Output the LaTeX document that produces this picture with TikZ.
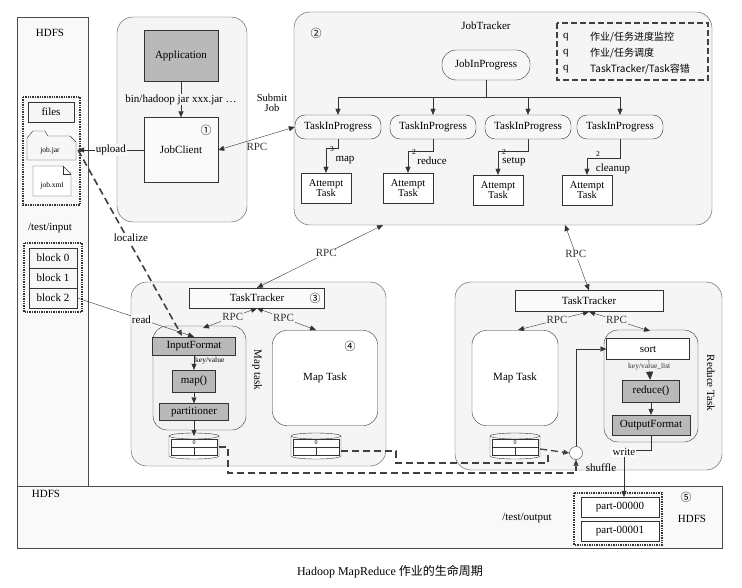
\documentclass[tikz,border=0pt]{standalone}
\usepackage{fontspec}
\setmainfont{Liberation Serif}
\newfontfamily\cjk{Noto Sans CJK SC}
\usetikzlibrary{arrows.meta,calc,shapes.geometric}
\begin{document}
\begin{tikzpicture}[x=1pt,y=-1pt,font=\fontsize{11}{12}\selectfont,
  >={Triangle[length=6pt,width=5pt]},
  cont/.style={draw=black!70,rounded corners=16pt,fill=gray!8},
  box/.style={draw=black!80,fill=gray!6,inner sep=1pt},
  dark/.style={draw=black!80,fill=gray!55,inner sep=1pt},
  pill/.style={draw=black!80,fill=gray!6,rounded corners=10pt,minimum width=86pt,minimum height=24pt,inner sep=1pt},
  att/.style={draw=black!80,fill=white,minimum width=50pt,minimum height=30pt,align=center,inner sep=1pt,font=\fontsize{10.5}{10.5}\selectfont},
  dotbox/.style={draw=black!80,densely dotted,line width=1.4pt},
  thickdash/.style={dashed,line width=1.6pt,dash pattern=on 7pt off 4pt},
  conn/.style={draw=black!80,->},
  small/.style={font=\fontsize{7.5}{8}\selectfont,inner sep=1pt}]
\useasboundingbox (0,0) rectangle (742,588);
% HDFS column and bottom bar
\draw[black!70,fill=gray!5] (17,17) rectangle (88,486);
\draw[black!70,fill=gray!5] (17,486) rectangle (722,548);
\node (hdfsA) at (50,33) {HDFS};
\node (hdfsB) at (46,494) {HDFS};
\draw[dotbox] (23,97) rectangle (80,205);
\node[box,minimum width=46pt,minimum height=20pt] (files) at (51,112) {files};
% job.jar folder
\draw[black!80,fill=gray!6] (27,160) -- (27,138) -- (33,131) -- (45,131) -- (48,136) -- (70,136) -- (76,142) -- (76,160) -- cycle;
\coordinate (jar) at (78,150);
\node[font=\fontsize{7.5}{8}\selectfont] (jarT) at (50,151) {job.jar};
% job.xml page
\draw[black!80,fill=white] (33,166) -- (63,166) -- (71,174) -- (71,196) -- (33,196) -- cycle;
\draw[black!80] (63,166) -- (63,174) -- (71,174);
\node[font=\fontsize{7.5}{8}\selectfont] (xmlT) at (52,186) {job.xml};
\node (tin) at (50,228) {/test/input};
\draw[dotbox] (24,243) rectangle (82,312);
\node[box,minimum width=48pt,minimum height=20pt] (b0) at (53,258) {block 0};
\node[box,minimum width=48pt,minimum height=20pt] (b1) at (53,278) {block 1};
\node[box,minimum width=48pt,minimum height=20pt] (b2) at (53,298) {block 2};
% JobClient container
\draw[cont] (117,17) rectangle (247,222);
\node[dark,minimum width=74pt,minimum height=51pt] (app) at (181,56) {Application};
\node[box,fill=gray!4,minimum width=74pt,minimum height=65pt] (jc) at (181,150) {JobClient};
\node[font=\cjk\fontsize{11}{11}\selectfont] (c1) at (206,130) {①};
\draw[conn] (app) -- node[fill=gray!8,inner sep=1pt] {bin/hadoop jar xxx.jar …} (jc);
% JobTracker container
\draw[cont] (294,12) rectangle (712,225);
\node[font=\cjk\fontsize{11}{11}\selectfont] (c2) at (316,33) {②};
\node (jt) at (486,26) {JobTracker};
\draw[draw=black!75,line width=1.3pt,dash pattern=on 6pt off 3pt] (557,23) rectangle (708,80);
\node[anchor=west,inner sep=0pt] (q1) at (563,37) {q};
\node[anchor=west,inner sep=0pt] (q2) at (563,53) {q};
\node[anchor=west,inner sep=0pt] (q3) at (563,69) {q};
\node[anchor=west,inner sep=0pt,font=\cjk\fontsize{10}{10}\selectfont] (t1) at (590,37) {作业/任务进度监控};
\node[anchor=west,inner sep=0pt,font=\cjk\fontsize{10}{10}\selectfont] (t2) at (590,53) {作业/任务调度};
\node[anchor=west,inner sep=0pt,font=\cjk\fontsize{10}{10}\selectfont] (t3) at (590,69) {TaskTracker/Task容错};
\node[pill,minimum width=88pt,minimum height=30pt,rounded corners=14pt] (jip) at (486,65) {JobInProgress};
\foreach \i/\x in {1/338,2/433,3/528,4/620}{
  \node[pill] (tip\i) at (\x,127) {TaskInProgress};}
\coordinate (bus) at (486,97);
\draw[black!80] (jip.south) -- (bus);
\draw[black!80] (338,97) -- (620,97);
\foreach \i in {1,2,3,4}{\draw[conn] (tip\i.north |- bus) -- (tip\i.north);}
\node[att] (at1) at (326,188) {Attempt\\Task};
\node[att] (at2) at (408,188) {Attempt\\Task};
\node[att] (at3) at (498,190) {Attempt\\Task};
\node[att] (at4) at (587,190) {Attempt\\Task};
\foreach \i/\yy in {1/148,2/151,3/151,4/158}{
  \draw[conn] (tip\i.south) -- ($(tip\i.south)+(0,\yy-139)$) -| (at\i.north);}
\node[small] at (332,149) {3};
\node[small] at (414,152) {2};
\node[small] at (504,152) {2};
\node[small] at (598,154) {2};
\node (lm) at (345,160) {map};
\node (lr) at (432,161) {reduce};
\node (ls) at (514,162) {setup};
\node (lc) at (613,169) {cleanup};
% JobClient <-> JobTracker
\draw[black!80,<->] (jc.east) -- node[pos=0.35,below right=-2pt] {RPC} (tip1.west);
\node[align=center,font=\fontsize{10.5}{10.5}\selectfont] (sj) at (272,103) {Submit\\Job};
\draw[conn] (jc.west) -- node[fill=gray!5,inner sep=1pt] {upload} (jar);
% Map TaskTracker container
\draw[cont] (131,282) rectangle (386,466);
\node[box,fill=gray!4,minimum width=135pt,minimum height=20pt] (tt1) at (257,298) {TaskTracker};
\node[font=\cjk\fontsize{11}{11}\selectfont] (c3) at (315,298) {③};
\draw[draw=black!80,fill=gray!10,rounded corners=14pt] (153,326) rectangle (246,430);
\node[rotate=-90] (mtl) at (257,370) {Map task};
\node[dark,minimum width=83pt,minimum height=18pt] (inf) at (194,346) {InputFormat};
\node[dark,minimum width=43pt,minimum height=22pt] (mapf) at (194,381) {map()};
\node[dark,minimum width=69pt,minimum height=17pt] (part) at (194,412) {partitioner};
\draw[conn] (inf) -- node[small,right=0pt,pos=0.4] {key/value} (mapf);
\draw[conn] (mapf) -- (part);
\node[draw=black!80,fill=white,rounded corners=14pt,minimum width=105pt,minimum height=95pt] (mt1) at (325,378) {Map Task};
\node[font=\cjk\fontsize{11}{11}\selectfont] (c4) at (350,346) {④};
% Reduce TaskTracker container
\draw[cont] (455,282) rectangle (722,470);
\node[box,fill=gray!4,minimum width=148pt,minimum height=21pt] (tt2) at (589,301) {TaskTracker};
\node[draw=black!80,fill=white,rounded corners=14pt,minimum width=86pt,minimum height=95pt] (mt2) at (515,378) {Map Task};
\draw[draw=black!80,fill=gray!10,rounded corners=14pt] (604,330) rectangle (698,442);
\node[rotate=-90] (rtl) at (711,383) {Reduce Task};
\node[box,fill=white,minimum width=83pt,minimum height=21pt] (sort) at (648,349) {sort};
\node[dark,minimum width=57pt,minimum height=22pt] (redf) at (651,391) {reduce()};
\node[dark,minimum width=78pt,minimum height=20pt] (outf) at (651,425) {OutputFormat};
\draw[black!80,-{Triangle[length=8pt,width=7pt]}] (sort) -- node[small,fill=gray!10,pos=0.35] {key/value\_list} (redf);
\draw[conn] (redf) -- (outf);
% disks
\newcommand\mydisk[2]{%
  \draw[black!80,fill=white] (#1-25,436) -- (#1-25,456) arc[start angle=180,end angle=360,x radius=25pt,y radius=3pt] -- (#1+25,436);
  \draw[black!80,fill=gray!10] (#1,436) ellipse[x radius=25pt,y radius=3pt];
  \draw[black!80] (#1-23,439) rectangle (#1+23,455);
  \draw[black!80] (#1-23,447) -- (#1+23,447) (#1,447) -- (#1,455);
  \node[font=\fontsize{6}{6}\selectfont,inner sep=0pt] at (#1,443) {0};}
\mydisk{194}{d1}
\mydisk{316}{d2}
\mydisk{515}{d3}
\coordinate (d1e) at (219,447);
\coordinate (d2e) at (341,451);
\coordinate (d3e) at (540,449);
\draw[conn] (part) -- (194,436);
% RPC arrows
\draw[black!80,<->] (383,225) -- node[fill=white,inner sep=1pt,pos=0.45] {RPC} (tt1.north);
\draw[black!80,<->] (565,225) -- node[fill=white,inner sep=1pt,pos=0.45] {RPC} (tt2.north);
\draw[black!80,<->] (tt1.south) -- node[fill=gray!8,inner sep=1pt,pos=0.45] {RPC} (203,328);
\draw[black!80,<->] (tt1.south) -- node[fill=gray!8,inner sep=1pt,pos=0.45] {RPC} (316,330);
\draw[black!80,<->] (tt2.south) -- node[fill=gray!8,inner sep=1pt,pos=0.45] {RPC} (518,330);
\draw[black!80,<->] (tt2.south) -- node[fill=gray!8,inner sep=1pt,pos=0.45] {RPC} (650,331);
% read & localize
\draw[conn] (b2.east) -- node[fill=gray!5,inner sep=1pt,pos=0.55] {read} (inf.north);
\draw[black!75,thickdash,->] (jar) -- (182,336);
\node[fill=white,inner sep=1pt] (loc) at (131,238) {localize};
% shuffle
\node[draw=black!80,fill=white,circle,minimum size=13pt,inner sep=0pt] (sh) at (576,453) {};
\node (shl) at (601,468) {shuffle};
\draw[conn] (sh.north) |- (sort.west);
\draw[black!75,thickdash,line width=1.3pt] (d1e) -- (228,447) -- (228,473) -| (576,466);
\draw[black!75,->] (576,467) -- (sh.south);
\draw[black!75,thickdash,line width=1.3pt] (d2e) -- (396,451) -- (396,463) -- (548,463) -- (548,453);
\draw[black!75,thickdash,line width=1.3pt,->] (d3e) -- (sh.west);
% output
\draw[dotbox] (574,493) rectangle (662,545);
\node[box,fill=white,minimum width=78pt,minimum height=20pt] (p0) at (620,507) {part-00000};
\node[box,fill=white,minimum width=78pt,minimum height=20pt] (p1) at (620,531) {part-00001};
\node[font=\cjk\fontsize{11}{11}\selectfont] (c5) at (686,497) {⑤};
\node (hdfsC) at (692,519) {HDFS};
\node (tout) at (527,518) {/test/output};
\draw[conn] (outf.south) -- (651,450) -- (624,450) -- node[pos=0.05,fill=white,inner sep=1pt] {write} (p0.north -| 624,0);
% caption
\node[font=\fontsize{12}{13}\selectfont] (cap) at (390,572) {Hadoop MapReduce {\cjk 作业的生命周期}};
\end{tikzpicture}
\end{document}
